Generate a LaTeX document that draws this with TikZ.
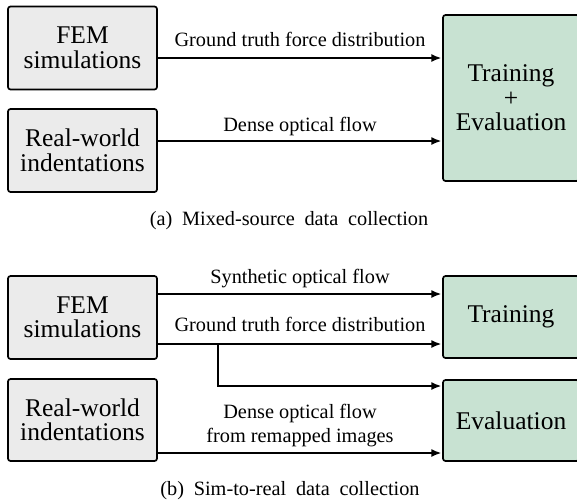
\documentclass[tikz,border=0pt]{standalone}
\usepackage{fontspec}
\setmainfont{Liberation Serif}
\usetikzlibrary{arrows.meta}
\definecolor{srcgray}{HTML}{EBEBEB}
\definecolor{tgtgreen}{HTML}{C8E2D2}
% box text, arrow labels, and caption text with wider word gaps
\newcommand\boxfont{\rmfamily\fontsize{25.5pt}{24.5pt}\selectfont}
\newcommand\lblfont{\rmfamily\fontsize{20.3pt}{23.5pt}\selectfont}
\newcommand\subcapfont{\rmfamily\fontsize{20.3pt}{23.5pt}\selectfont\spaceskip 0.48em\relax}
\tikzset{
  srcbox/.style={draw=black, fill=srcgray, line width=1.7pt, rounded corners=2.5pt,
    minimum width=149pt, minimum height=83pt, inner sep=0pt, align=center,
    font=\boxfont},
  tgtbox/.style={draw=black, fill=tgtgreen, line width=1.7pt, rounded corners=2.5pt,
    minimum width=136pt, inner sep=0pt, align=center,
    font=\boxfont},
  arr/.style={line width=1.6pt, -{Latex[length=10pt,width=8pt]}, shorten >=0.8pt},
  lbl/.style={anchor=base, inner sep=0pt, align=center, font=\lblfont},
  subcaption/.style={anchor=base, inner sep=0pt, font=\subcapfont}
}
\begin{document}
\begin{tikzpicture}[x=1pt, y=-1pt]
\useasboundingbox (0,0) rectangle (577,501);
\clip (0,0) rectangle (577,501);

% (a) mixed-source data collection
\node[srcbox] (fem1) at (82.5,48) {FEM\\simulations};
\node[srcbox] (real1) at (82.5,150.5) {Real-world\\indentations};
\node[tgtbox, minimum height=166pt] (te) at (511,98) {Training\\+\\Evaluation};

\coordinate (a1) at ([yshift=-10pt]fem1.east);
\coordinate (a2) at ([yshift=9.5pt]real1.east);
\draw[arr] (a1) -- (a1 -| te.west);
\draw[arr] (a2) -- (a2 -| te.west);

\node[lbl] (la1) at (300,46.5) {Ground truth force distribution};
\node[lbl] (la2) at (300,131.5) {Dense optical flow};
\node[subcaption] (capa) at (289,225) {(a) Mixed-source data collection};

% (b) sim-to-real data collection
\node[srcbox] (fem2) at (82.5,317.5) {FEM\\simulations};
\node[srcbox, minimum height=82pt] (real2) at (82.5,420) {Real-world\\indentations};
\node[tgtbox, minimum height=82pt] (train) at (511,317) {Training};
\node[tgtbox, minimum height=81pt] (eval) at (511,420.5) {Evaluation};

\coordinate (b1) at ([yshift=23.5pt]fem2.east);
\coordinate (b2) at ([yshift=-26.5pt]fem2.east);
\coordinate (br) at ([xshift=60pt]b2);
\coordinate (e1) at ([yshift=34.5pt]eval.west);
\coordinate (b3) at ([yshift=-33pt]real2.east);
\draw[arr] (b1) -- (b1 -| train.west);
\draw[arr] (b2) -- (b2 -| train.west);
\draw[arr] (br) -- (br |- e1) -- (e1);
\draw[arr] (b3) -- (b3 -| eval.west);

\node[lbl] (lb1) at (300,283.3) {Synthetic optical flow};
\node[lbl] (lb2) at (300,331.7) {Ground truth force distribution};
\node[lbl] (lb3) at (300,418.3) {Dense optical flow};
\node[lbl] (lb4) at (300,442) {from remapped images};
\node[subcaption] (capb) at (290,495) {(b) Sim-to-real data collection};
\end{tikzpicture}
\end{document}
